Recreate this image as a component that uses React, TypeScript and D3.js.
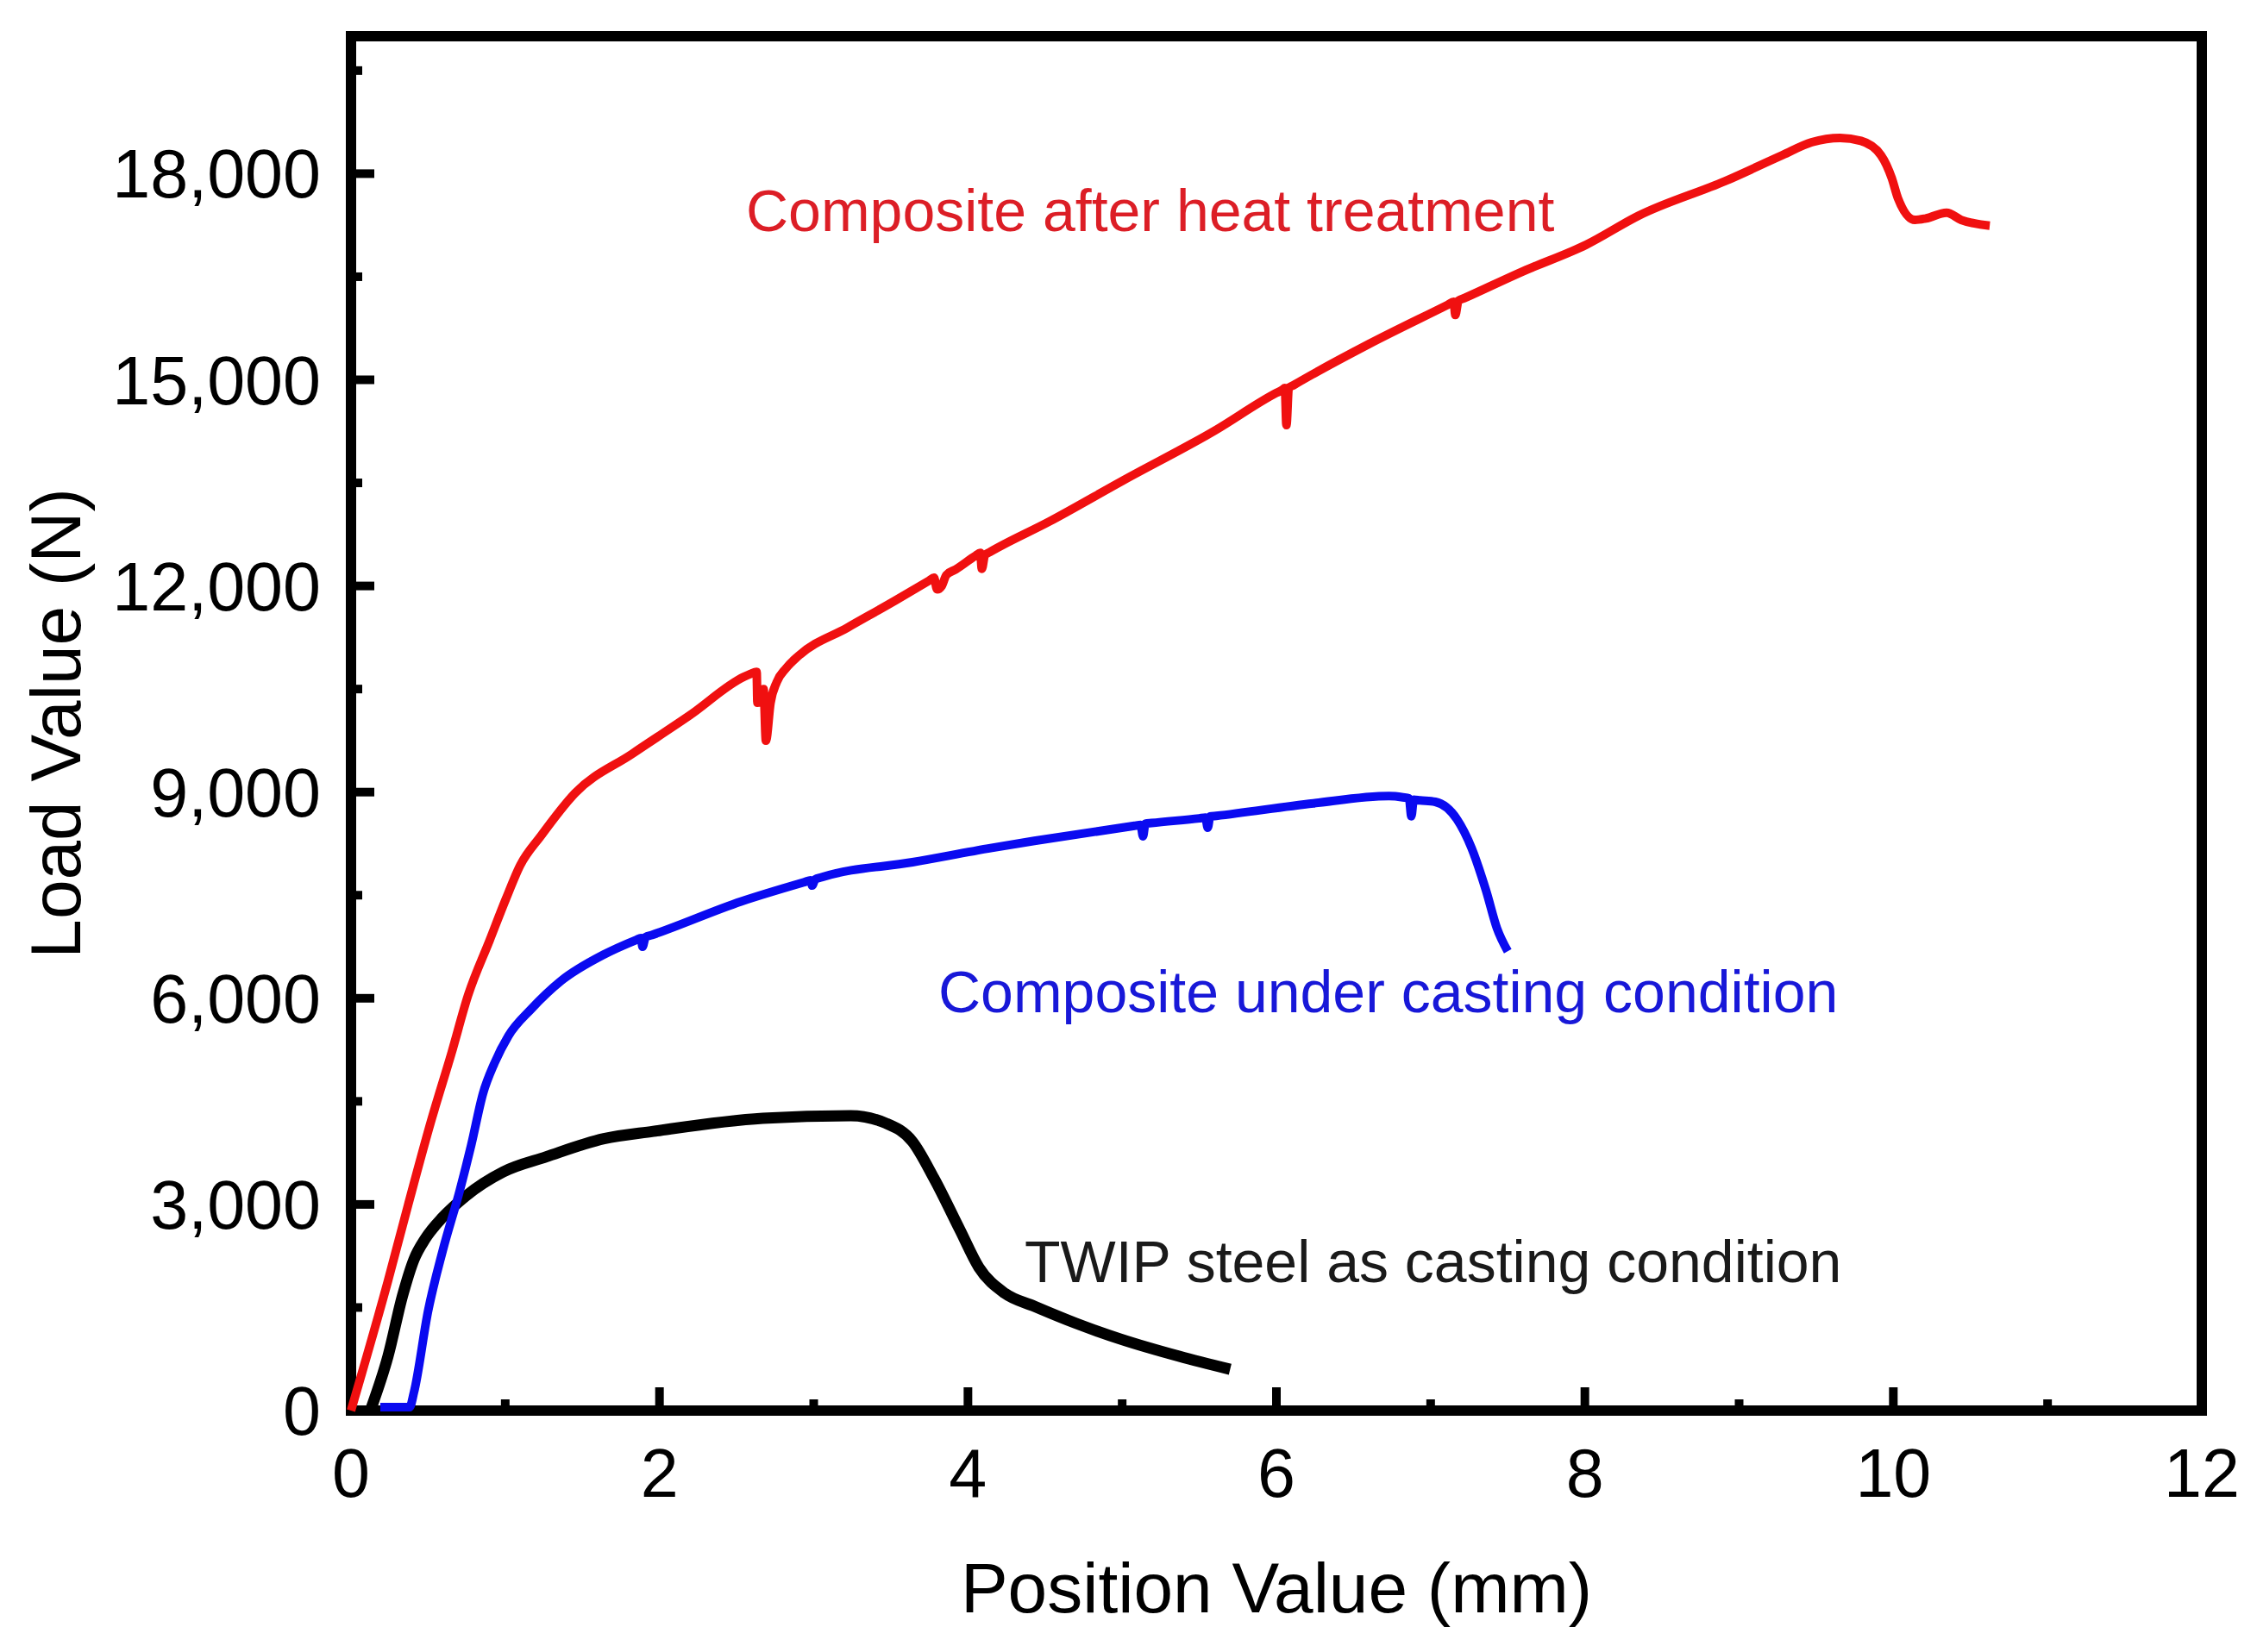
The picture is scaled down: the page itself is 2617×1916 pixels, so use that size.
import React from "react";
import * as d3 from "d3";

// ---- Data ----
const redX = [0, 0.24, 0.37, 0.52, 0.65, 0.76, 0.90, 1.005, 1.098, 1.229, 1.452, 1.825, 2.198, 2.55, 2.59, 2.63, 2.635, 2.66, 2.675, 2.69, 2.72, 2.76, 2.82, 2.90, 3.22, 3.53, 3.75, 3.78, 3.80, 3.83, 3.86, 3.92, 4.05, 4.08, 4.09, 4.11, 4.14, 4.53, 5.01, 5.60, 6.00, 6.04, 6.055, 6.065, 6.08, 6.11, 6.60, 7.11, 7.15, 7.16, 7.18, 7.22, 7.60, 8.01, 8.35, 8.91, 9.28, 9.47, 9.655, 9.79, 9.92, 9.99, 10.03, 10.14, 10.21, 10.345, 10.44, 10.625];
const redY = [0, 1890, 2990, 4220, 5190, 6050, 6850, 7450, 7938, 8356, 8984, 9560, 10120, 10680, 10719, 10750, 10300, 10350, 10500, 9750, 10300, 10600, 10800, 10980, 11395, 11790, 12080, 12120, 11950, 12000, 12160, 12240, 12440, 12480, 12250, 12450, 12490, 12940, 13540, 14260, 14810, 14856, 14880, 14340, 14880, 14920, 15520, 16090, 16135, 15944, 16150, 16190, 16580, 16967, 17390, 17892, 18268, 18456, 18519, 18477, 18268, 17934, 17641, 17327, 17348, 17432, 17327, 17244];

const blueX = [0.19, 0.38, 0.408, 0.50, 0.595, 0.706, 0.78, 0.856, 0.93, 1.02, 1.17, 1.36, 1.64, 1.85, 1.88, 1.89, 1.91, 1.95, 2.53, 2.94, 2.98, 2.99, 3.01, 3.05, 3.64, 4.155, 4.43, 5.08, 5.12, 5.135, 5.15, 5.19, 5.50, 5.54, 5.555, 5.57, 5.61, 6.24, 6.73, 6.82, 6.86, 6.875, 6.89, 6.93, 7.03, 7.17, 7.265, 7.36, 7.43, 7.50];
const blueY = [50, 50, 265, 1452, 2330, 3209, 3869, 4616, 5055, 5451, 5847, 6250, 6637, 6850, 6877, 6750, 6890, 6920, 7409, 7690, 7716, 7640, 7730, 7760, 7980, 8189, 8290, 8510, 8523, 8356, 8540, 8550, 8618, 8628, 8482, 8645, 8655, 8837, 8942, 8925, 8910, 8649, 8890, 8880, 8858, 8607, 8189, 7562, 7018, 6684];

const blackX = [0.13, 0.24, 0.334, 0.408, 0.483, 0.595, 0.744, 0.986, 1.266, 1.64, 1.96, 2.67, 3.24, 3.47, 3.64, 3.78, 3.95, 4.07, 4.24, 4.43, 4.70, 4.99, 5.37, 5.70];
const blackY = [30, 792, 1671, 2198, 2506, 2814, 3122, 3473, 3693, 3956, 4063, 4253, 4291, 4180, 3915, 3379, 2620, 2087, 1706, 1518, 1270, 1040, 790, 600];

const xMajorTicks = [0, 2, 4, 6, 8, 10, 12];
const xMinorTicks = [1, 3, 5, 7, 9, 11];
const yMajorTicks = [0, 3000, 6000, 9000, 12000, 15000, 18000];
const yMinorTicks = [1500, 4500, 7500, 10500, 13500, 16500, 19500];

const seriesLabels = [
  "Composite after heat treatment",
  "Composite under casting condition",
  "TWIP steel as casting condition",
];

const W = 2617;
const H = 1916;
const left = 407;
const right = 2553;
const top = 42;
const bottom = 1636;

export default function App() {
  const x = d3.scaleLinear().domain([0, 12]).range([left, right]);
  const y = d3.scaleLinear().domain([0, 20000]).range([bottom, top]);
  const fmt = d3.format(",");

  const line = d3
    .line<[number, number]>()
    .x((d) => x(d[0]))
    .y((d) => y(d[1]))
    .curve(d3.curveMonotoneX);

  const zip = (xs: number[], ys: number[]) =>
    xs.map((v, i) => [v, ys[i]] as [number, number]);

  const font = "'Liberation Sans', Arial, Helvetica, sans-serif";
  const axisW = 12;
  const tickW = 10;
  const majLen = 27;
  const minLen = 13;

  return (
    <>
      <style>{`body{margin:0;}`}</style>
      <svg width={W} height={H} style={{ display: "block", background: "#fff" }} fontFamily={font}>
        <rect x={0} y={0} width={W} height={H} fill="#fff" />

        {/* frame */}
        <rect x={left} y={top} width={right - left} height={bottom - top} fill="none" stroke="#000" strokeWidth={axisW} />

        {/* x ticks */}
        {xMajorTicks.map((t) => (
          <g key={"xm" + t}>
            <line x1={x(t)} x2={x(t)} y1={bottom} y2={bottom - majLen} stroke="#000" strokeWidth={tickW} />
            <text x={x(t)} y={1736} fontSize={79} textAnchor="middle" fill="#000">
              {t}
            </text>
          </g>
        ))}
        {xMinorTicks.map((t) => (
          <line key={"xn" + t} x1={x(t)} x2={x(t)} y1={bottom} y2={bottom - minLen} stroke="#000" strokeWidth={tickW} />
        ))}

        {/* y ticks */}
        {yMajorTicks.map((t) => (
          <g key={"ym" + t}>
            <line x1={left} x2={left + majLen} y1={y(t)} y2={y(t)} stroke="#000" strokeWidth={tickW} />
            <text x={372} y={y(t) + 28} fontSize={79} textAnchor="end" fill="#000">
              {fmt(t)}
            </text>
          </g>
        ))}
        {yMinorTicks.map((t) => (
          <line key={"yn" + t} x1={left} x2={left + minLen} y1={y(t)} y2={y(t)} stroke="#000" strokeWidth={tickW} />
        ))}

        {/* data lines */}
        <path d={line(zip(blackX, blackY)) || ""} fill="none" stroke="#000" strokeWidth={13} strokeLinejoin="round" strokeLinecap="butt" />
        <path d={line(zip(blueX, blueY)) || ""} fill="none" stroke="#0a0af0" strokeWidth={10} strokeLinejoin="round" strokeLinecap="butt" />
        <path d={line(zip(redX, redY)) || ""} fill="none" stroke="#f01010" strokeWidth={10} strokeLinejoin="round" strokeLinecap="butt" />

        {/* axis titles */}
        <text x={(left + right) / 2} y={1870} fontSize={82} textAnchor="middle" fill="#000">
          Position Value (mm)
        </text>
        <text
          transform={`translate(93, ${(top + bottom) / 2}) rotate(-90)`}
          fontSize={82}
          textAnchor="middle"
          fill="#000"
        >
          Load Value (N)
        </text>

        {/* annotations */}
        <text x={865} y={268} fontSize={68} fill="#dc1e26">
          {seriesLabels[0]}
        </text>
        <text x={1088} y={1174} fontSize={68} fill="#1818d8">
          {seriesLabels[1]}
        </text>
        <text x={1188} y={1487} fontSize={68} fill="#1a1a1a">
          {seriesLabels[2]}
        </text>
      </svg>
    </>
  );
}
